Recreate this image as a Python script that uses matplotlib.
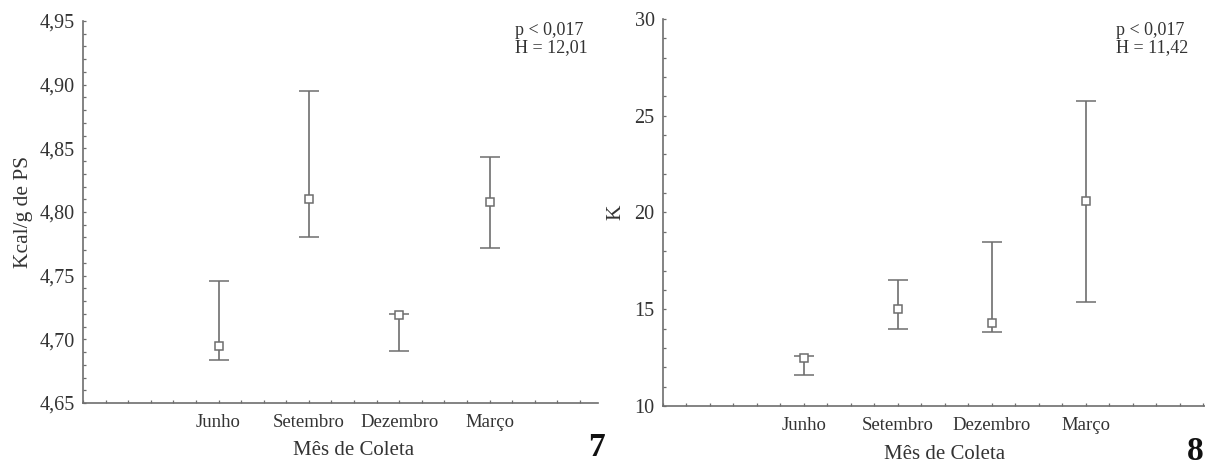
import matplotlib
matplotlib.use("Agg")
import matplotlib.pyplot as plt
from matplotlib.ticker import MultipleLocator, FuncFormatter

plt.rcParams['font.family'] = ['Liberation Serif', 'DejaVu Serif']

months = ["Junho", "Setembro", "Dezembro", "Março"]

# Panel 7: caloric value (Kcal/g dry weight)
kcal_median = [4.695, 4.810, 4.719, 4.808]
kcal_low = [4.684, 4.780, 4.691, 4.772]
kcal_high = [4.746, 4.895, 4.720, 4.843]
kcal_stats = ["p < 0,017", "H = 12,01"]

# Panel 8: condition factor K
k_median = [12.5, 15.0, 14.3, 20.6]
k_low = [11.6, 14.0, 13.85, 15.4]
k_high = [12.6, 16.5, 18.5, 25.75]
k_stats = ["p < 0,017", "H = 11,42"]

W, H = 1205, 466
fig = plt.figure(figsize=(W / 100, H / 100), dpi=100)

line_c = "#6e6e6e"
text_c = "#333333"


def px_axes(x0, x1, ytop, ybot):
    return fig.add_axes([x0 / W, 1 - ybot / H, (x1 - x0) / W, (ybot - ytop) / H])


def panel(ax, med, lo, hi, ylim, major, minor, fmt, ylabel, xlim, stats):
    xs = list(range(1, len(months) + 1))
    yerr = [[m - l for m, l in zip(med, lo)], [h - m for m, h in zip(med, hi)]]
    ax.errorbar(xs, med, yerr=yerr, fmt="s", ms=5.5, mfc="white", mec=line_c,
                mew=1.1, ecolor=line_c, elinewidth=1.2, capsize=7.5,
                capthick=1.2, zorder=3)
    ax.set_xlim(*xlim)
    ax.set_ylim(*ylim)
    for s in ("top", "right"):
        ax.spines[s].set_visible(False)
    for s in ("left", "bottom"):
        ax.spines[s].set_color(line_c)
        ax.spines[s].set_linewidth(1.2)
    ax.set_xticks(xs)
    ax.set_xticklabels(months)
    ax.xaxis.set_minor_locator(MultipleLocator(0.25))
    ax.yaxis.set_major_locator(MultipleLocator(major))
    ax.yaxis.set_minor_locator(MultipleLocator(minor))
    ax.yaxis.set_major_formatter(FuncFormatter(fmt))
    ax.tick_params(which="both", direction="in", length=2.5, width=0.9,
                   color=line_c, labelcolor=text_c)
    ax.tick_params(axis="x", which="major", pad=8, labelsize=13.5)
    ax.tick_params(axis="y", which="major", pad=6, labelsize=14.5)
    ax.set_xlabel("Mês de Coleta", fontsize=15, color=text_c, labelpad=4)
    ax.xaxis.set_label_coords((2.5 - xlim[0]) / (xlim[1] - xlim[0]), -0.1,
                              transform=ax.transAxes)
    ax.set_ylabel(ylabel, fontsize=15.5, color=text_c)
    ax.text(0.0, 1.0, "\n".join(stats), transform=ax.transAxes, fontsize=13,
            color=text_c, va="top", ha="left", linespacing=1.0)


ax1 = px_axes(83, 598, 21, 403)
panel(ax1, kcal_median, kcal_low, kcal_high, (4.65, 4.95), 0.05, 0.01,
      lambda v, p: f"{v:.2f}".replace(".", ","), "Kcal/g de PS", (-0.5, 5.2),
      kcal_stats)
ax1.texts[0].set_position(((515 - 83) / (598 - 83), (403 - 22) / (403 - 21)))
ax1.yaxis.set_label_coords(-0.098, 0.5)

ax2 = px_axes(663, 1205, 19, 406)
panel(ax2, k_median, k_low, k_high, (10, 30), 5, 1,
      lambda v, p: f"{v:.0f}", "K", (-0.5, 5.27), k_stats)
ax2.texts[0].set_position(((1116 - 663) / (1205 - 663), (406 - 22) / (406 - 19)))
ax2.yaxis.set_label_coords(-0.07, 0.5)

fig.text(597 / W, 1 - 456 / H, "7", fontsize=24, fontweight="bold",
         color="#111111", ha="center", va="baseline")
fig.text(1195 / W, 1 - 460 / H, "8", fontsize=24, fontweight="bold",
         color="#111111", ha="center", va="baseline")

fig.savefig("out.png", dpi=100, facecolor="white")
